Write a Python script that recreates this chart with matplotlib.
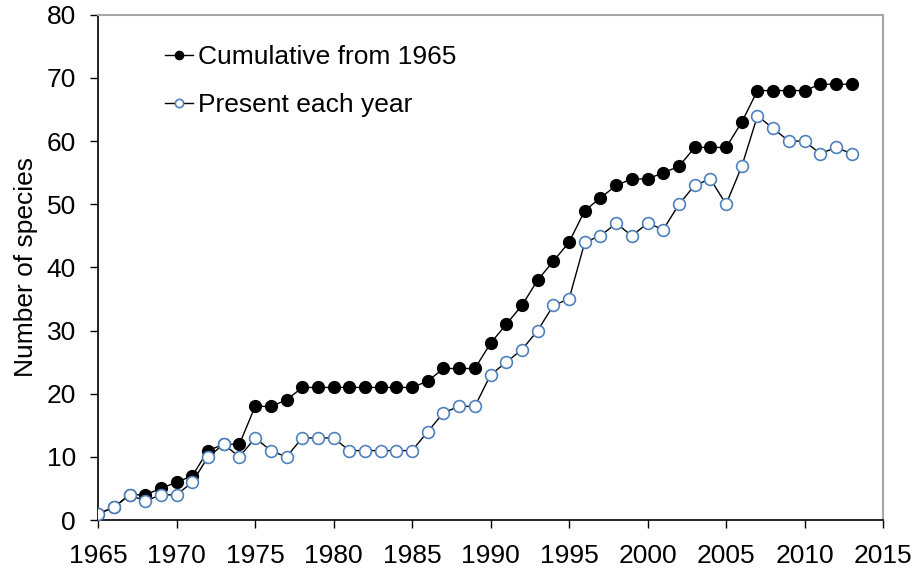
import matplotlib
matplotlib.use("Agg")
import matplotlib.pyplot as plt

years = list(range(1965, 2014))
cumulative = [1, 2, 4, 4, 5, 6, 7, 11, 12, 12,
              18, 18, 19, 21, 21, 21, 21, 21, 21, 21,
              21, 22, 24, 24, 24, 28, 31, 34, 38, 41,
              44, 49, 51, 53, 54, 54, 55, 56, 59, 59,
              59, 63, 68, 68, 68, 68, 69, 69, 69]
present = [1, 2, 4, 3, 4, 4, 6, 10, 12, 10,
           13, 11, 10, 13, 13, 13, 11, 11, 11, 11,
           11, 14, 17, 18, 18, 23, 25, 27, 30, 34,
           35, 44, 45, 47, 45, 47, 46, 50, 53, 54,
           50, 56, 64, 62, 60, 60, 58, 59, 58]
x_ticks = list(range(1965, 2016, 5))
y_ticks = list(range(0, 81, 10))

plt.rcParams["font.family"] = ["Liberation Sans", "DejaVu Sans"]

fig = plt.figure(figsize=(9.17, 5.69), dpi=100)
ax = fig.add_axes([0.107, 0.086, 0.856, 0.888])

ax.plot(years, cumulative, color="black", linewidth=1, marker="o",
        markersize=8.5, markerfacecolor="black", markeredgecolor="black",
        label="Cumulative from 1965", zorder=3)
ax.plot(years, present, color="black", linewidth=1, marker="o",
        markersize=8.5, markerfacecolor="white", markeredgecolor="#4f81bd",
        markeredgewidth=1.2, label="Present each year", zorder=4)

ax.set_xlim(1965, 2015)
ax.set_ylim(0, 80)
ax.set_xticks(x_ticks)
ax.set_yticks(y_ticks)
ax.tick_params(direction="out", length=6, width=1, labelsize=19)
ax.tick_params(axis="x", pad=11)
ax.tick_params(axis="y", pad=10)
ax.set_ylabel("Number of species", fontsize=19, labelpad=6)

for side in ("left", "bottom"):
    ax.spines[side].set_color("black")
    ax.spines[side].set_linewidth(1.2)
for side in ("top", "right"):
    ax.spines[side].set_color("#a6a6a6")
    ax.spines[side].set_linewidth(1.5)

leg = ax.legend(loc="upper left", bbox_to_anchor=(0.085, 0.94), frameon=False,
                fontsize=19, handlelength=1.05, handletextpad=0.2,
                labelspacing=0.92, markerscale=0.7, borderaxespad=0,
                borderpad=0)

fig.savefig("out.png", dpi=100)
